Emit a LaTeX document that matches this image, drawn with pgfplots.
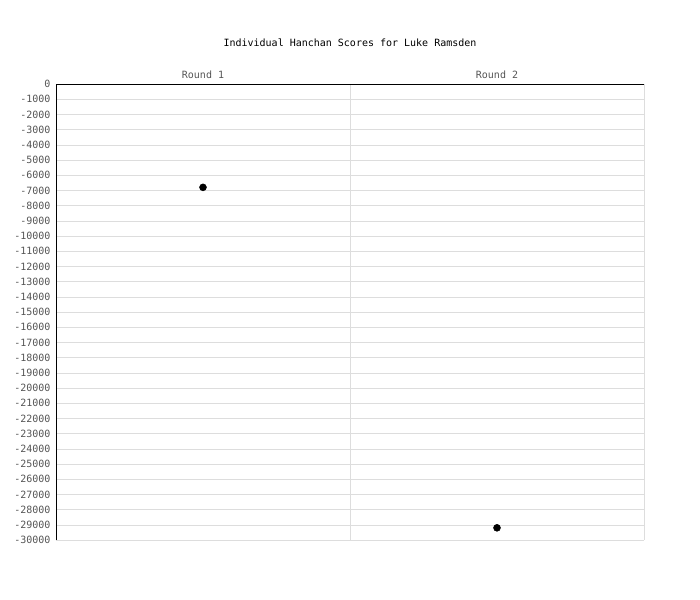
\documentclass[border=0pt]{standalone}
\usepackage{fontspec}
\setmainfont{DejaVu Sans Mono}
\usepackage{pgfplots}
\pgfplotsset{compat=1.18}
\definecolor{gridgray}{RGB}{221,221,221}
\definecolor{labelgray}{RGB}{85,85,85}
\begin{document}
\fontsize{7.5pt}{9pt}\selectfont
\begin{tikzpicture}
\path[use as bounding box] (-42pt,-45pt) rectangle (483pt,405pt);
\begin{axis}[
  at={(0pt,0pt)}, anchor=south west,
  scale only axis,
  width=441pt, height=342pt,
  xmin=0, xmax=2,
  ymin=-30000, ymax=0,
  scaled y ticks=false,
  axis line style={draw=none},
  xtick={0.5,1.5},
  xticklabels={Round 1,Round 2},
  xticklabel pos=upper,
  minor xtick={1},
  xminorgrids=true,
  minor grid style={gridgray},
  ytick={-30000,-29000,...,0},
  yticklabel style={
    /pgf/number format/fixed,
    /pgf/number format/precision=0,
    /pgf/number format/1000 sep={},
    /pgf/number format/assume math mode=true,
    xshift=-1.5pt},
  ymajorgrids=true,
  major grid style={gridgray},
  major tick length=0pt,
  minor tick length=0pt,
  tick label style={font=\fontsize{7.5pt}{9pt}\selectfont, text=labelgray},
  xticklabel style={yshift=1pt},
  clip=false,
]
\draw[gridgray] (axis cs:2,-30000) -- (axis cs:2,0);
\draw[gridgray] (axis cs:0,-30000) -- (axis cs:2,-30000);
\draw[black] (axis cs:0,-30000) -- (axis cs:0,0) -- (axis cs:2,0);
\addplot[only marks, mark=*, mark size=2.6pt, black] coordinates {
  (0.5,-6800)
  (1.5,-29200)
};
\end{axis}
\node[font=\fontsize{7.5pt}{9pt}\selectfont] at (220.5pt,372.75pt) {Individual Hanchan Scores for Luke Ramsden};
\end{tikzpicture}
\end{document}
